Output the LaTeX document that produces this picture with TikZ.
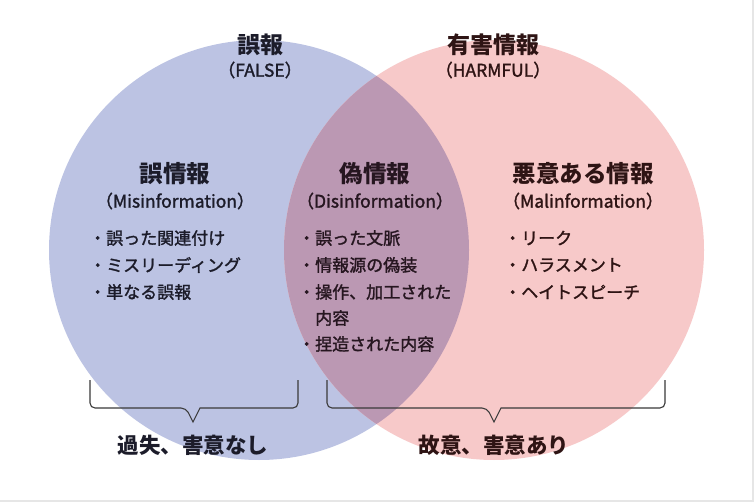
\documentclass[tikz,border=0pt]{standalone}
\usepackage{fontspec}
\setmainfont{Noto Sans CJK JP}
\newfontfamily\jp{Noto Sans CJK JP}
\newfontfamily\jpm[FakeBold=1.6]{Noto Sans CJK JP}
\definecolor{cblue}{HTML}{BCC3E3}
\definecolor{cpink}{HTML}{F7C9C9}
\definecolor{cmix}{HTML}{BB98B3}
\definecolor{tnavy}{HTML}{1C1C2A}
\definecolor{tbrown}{HTML}{2E1414}
\definecolor{tmid}{HTML}{261620}
\definecolor{bracketc}{HTML}{3A3A3A}
\definecolor{framec}{HTML}{E6E6E6}
\tikzset{
  toplabel/.style={inner sep=0pt, font=\jp\bfseries\fontsize{23}{26}\selectfont},
  sublabel/.style={inner sep=0pt, font=\jpm\fontsize{17.5}{20}\selectfont},
  titlelabel/.style={inner sep=0pt, font=\jp\bfseries\fontsize{23.5}{27}\selectfont},
  itemlabel/.style={inner sep=0pt, anchor=west, font=\jpm\fontsize{17}{20}\selectfont},
  bottomlabel/.style={inner sep=0pt, font=\jp\bfseries\fontsize{21.5}{25}\selectfont},
  bracketline/.style={draw=bracketc, line width=1.1pt, rounded corners=5pt},
}
\begin{document}
\begin{tikzpicture}[x=1pt,y=-1pt]
\useasboundingbox (0,0) rectangle (754,502);
\fill[white] (0,0) rectangle (754,502);
% frame lines right & bottom
\draw[framec, line width=1.5pt] (0,501.2) -- (753.2,501.2) -- (753.2,0);
% circles
\fill[cblue] (259,250) circle[radius=210];
\fill[cpink] (494,250) circle[radius=210];
\begin{scope}
  \clip (259,250) circle[radius=210];
  \fill[cmix] (494,250) circle[radius=210];
\end{scope}
% top labels
\node[toplabel, text=tnavy] (false) at (260,45) {誤報};
\node[sublabel, text=tnavy] (falseen) at (260,70) {（FALSE）};
\node[toplabel, text=tbrown] (harm) at (493,45) {有害情報};
\node[sublabel, text=tbrown] (harmen) at (493,70) {（HARMFUL）};
% titles
\node[titlelabel, text=tnavy] (mis) at (175,174) {誤情報};
\node[sublabel, text=tnavy] (misen) at (175,201) {（Misinformation）};
\node[titlelabel, text=tmid] (dis) at (375,174) {偽情報};
\node[sublabel, text=tmid] (disen) at (375,201) {（Disinformation）};
\node[titlelabel, text=tbrown] (mal) at (583,174) {悪意ある情報};
\node[sublabel, text=tbrown] (malen) at (583,201) {（Malinformation）};
% lists
\node[itemlabel, text=tnavy] (m1) at (89,238) {・誤った関連付け};
\node[itemlabel, text=tnavy] (m2) at (89,265) {・ミスリーディング};
\node[itemlabel, text=tnavy] (m3) at (89,292) {・単なる誤報};
\node[itemlabel, text=tmid] (d1) at (298,238) {・誤った文脈};
\node[itemlabel, text=tmid] (d2) at (298,265) {・情報源の偽装};
\node[itemlabel, text=tmid] (d3) at (298,292) {・操作、加工された};
\node[itemlabel, text=tmid] (d3b) at (315,318) {内容};
\node[itemlabel, text=tmid] (d4) at (298,344) {・捏造された内容};
\node[itemlabel, text=tbrown] (r1) at (504,238) {・リーク};
\node[itemlabel, text=tbrown] (r2) at (504,265) {・ハラスメント};
\node[itemlabel, text=tbrown] (r3) at (504,292) {・ヘイトスピーチ};
% brackets
\coordinate (lb1) at (90,380);
\coordinate (lb2) at (298,380);
\coordinate (rb1) at (327,380);
\coordinate (rb2) at (665,380);
\draw[bracketline] (lb1) -- (90,408) -- (186,408) [sharp corners] -- (193,422) -- (200,408) [rounded corners=5pt] -- (298,408) -- (lb2);
\draw[bracketline] (rb1) -- (327,408) -- (487,408) [sharp corners] -- (494,422) -- (501,408) [rounded corners=5pt] -- (665,408) -- (rb2);
% bottom labels
\node[bottomlabel, text=tnavy] (neg) at (193,445) {過失、害意なし};
\node[bottomlabel, text=tbrown] (int) at (494,445) {故意、害意あり};
\end{tikzpicture}
\end{document}
